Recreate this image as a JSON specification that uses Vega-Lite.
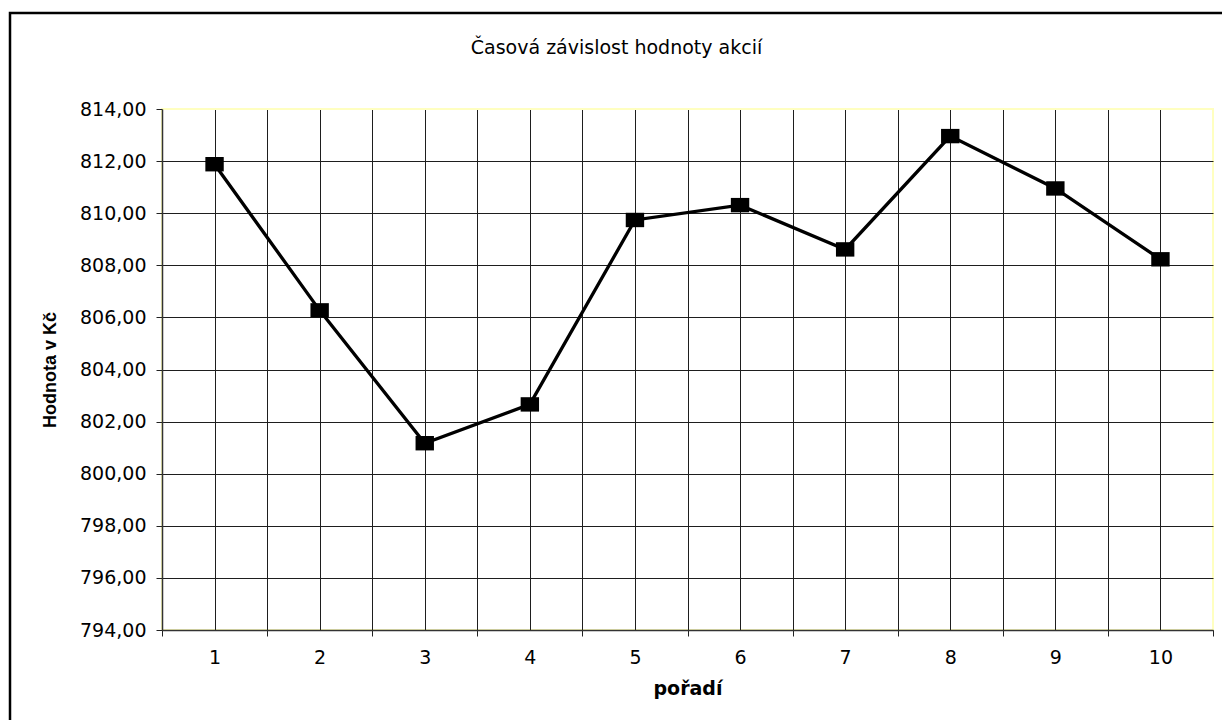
{
  "$schema": "https://vega.github.io/schema/vega-lite/v6.json",
  "width": 1051,
  "height": 521,
  "autosize": {"type": "none"},
  "padding": {"left": 162, "top": 109, "right": 9, "bottom": 90},
  "background": "white",
  "config": {
    "view": {"stroke": "#ffffc0", "strokeWidth": 2},
    "font": "DejaVu Sans"
  },
  "title": {
    "text": "Časová závislost hodnoty akcií",
    "font": "DejaVu Sans",
    "fontSize": 19,
    "fontWeight": "normal",
    "color": "#000000",
    "anchor": "middle",
    "frame": "group",
    "dx": -71,
    "offset": -46
  },
  "layer": [
    {
      "description": "Outer chart frame",
      "data": {"values": [{}]},
      "mark": {"type": "rect", "fill": "transparent", "stroke": "#000000", "strokeWidth": 2.5, "clip": false},
      "encoding": {
        "x": {"value": -152},
        "y": {"value": -96},
        "x2": {"value": 1080},
        "y2": {"value": 640}
      }
    },
    {
      "data": {
        "values": [
          {"poradi": 1, "hodnota": 811.88},
          {"poradi": 2, "hodnota": 806.27},
          {"poradi": 3, "hodnota": 801.17},
          {"poradi": 4, "hodnota": 802.66},
          {"poradi": 5, "hodnota": 809.74},
          {"poradi": 6, "hodnota": 810.31},
          {"poradi": 7, "hodnota": 808.61},
          {"poradi": 8, "hodnota": 812.96},
          {"poradi": 9, "hodnota": 810.95},
          {"poradi": 10, "hodnota": 808.23}
        ]
      },
      "mark": {
        "type": "line",
        "color": "#000000",
        "strokeWidth": 3.3,
        "point": {
          "filled": true,
          "color": "#000000",
          "opacity": 1,
          "shape": "M-1.15,-0.9H1.15V0.9H-1.15Z",
          "size": 256
        }
      },
      "encoding": {
        "x": {
          "field": "poradi",
          "type": "quantitative",
          "scale": {"domain": [0.5, 10.5], "nice": false, "zero": false},
          "axis": {
            "values": [0.5, 1, 1.5, 2, 2.5, 3, 3.5, 4, 4.5, 5, 5.5, 6, 6.5, 7, 7.5, 8, 8.5, 9, 9.5, 10, 10.5],
            "labelExpr": "datum.value % 1 === 0 ? format(datum.value, 'd') : ''",
            "labelFont": "DejaVu Sans",
            "labelFontSize": 19,
            "labelColor": "#000000",
            "labelPadding": 12,
            "labelOverlap": false,
            "labelFlush": false,
            "labelBound": false,
            "tickSize": 6,
            "tickColor": "#222222",
            "tickOpacity": {"condition": {"test": "datum.value % 1 === 0", "value": 0}, "value": 1},
            "grid": true,
            "gridColor": "#1e1e1e",
            "gridWidth": 1,
            "gridOpacity": {"condition": {"test": "datum.value === 0.5 || datum.value === 10.5", "value": 0}, "value": 1},
            "domainColor": "#333333",
            "domainWidth": 1.5,
            "title": "pořadí",
            "titleFont": "DejaVu Sans",
            "titleFontSize": 19,
            "titleFontWeight": "bold",
            "titleColor": "#000000",
            "titlePadding": 12
          }
        },
        "y": {
          "field": "hodnota",
          "type": "quantitative",
          "scale": {"domain": [794, 814], "nice": false, "zero": false},
          "axis": {
            "values": [794, 796, 798, 800, 802, 804, 806, 808, 810, 812, 814],
            "labelExpr": "replace(format(datum.value, '.2f'), '.', ',')",
            "labelFont": "DejaVu Sans",
            "labelFontSize": 19,
            "labelColor": "#000000",
            "labelPadding": 10,
            "tickSize": 6,
            "tickColor": "#222222",
            "grid": true,
            "gridWidth": 1,
            "gridColor": {"condition": {"test": "datum.value === 814", "value": "#ffffc0"}, "value": "#1e1e1e"},
            "domainColor": "#333333",
            "domainWidth": 1.5,
            "title": "Hodnota v Kč",
            "titleFont": "Liberation Sans",
            "titleFontSize": 18,
            "titleFontWeight": "bold",
            "titleColor": "#000000",
            "titlePadding": 20
          }
        }
      }
    }
  ]
}
